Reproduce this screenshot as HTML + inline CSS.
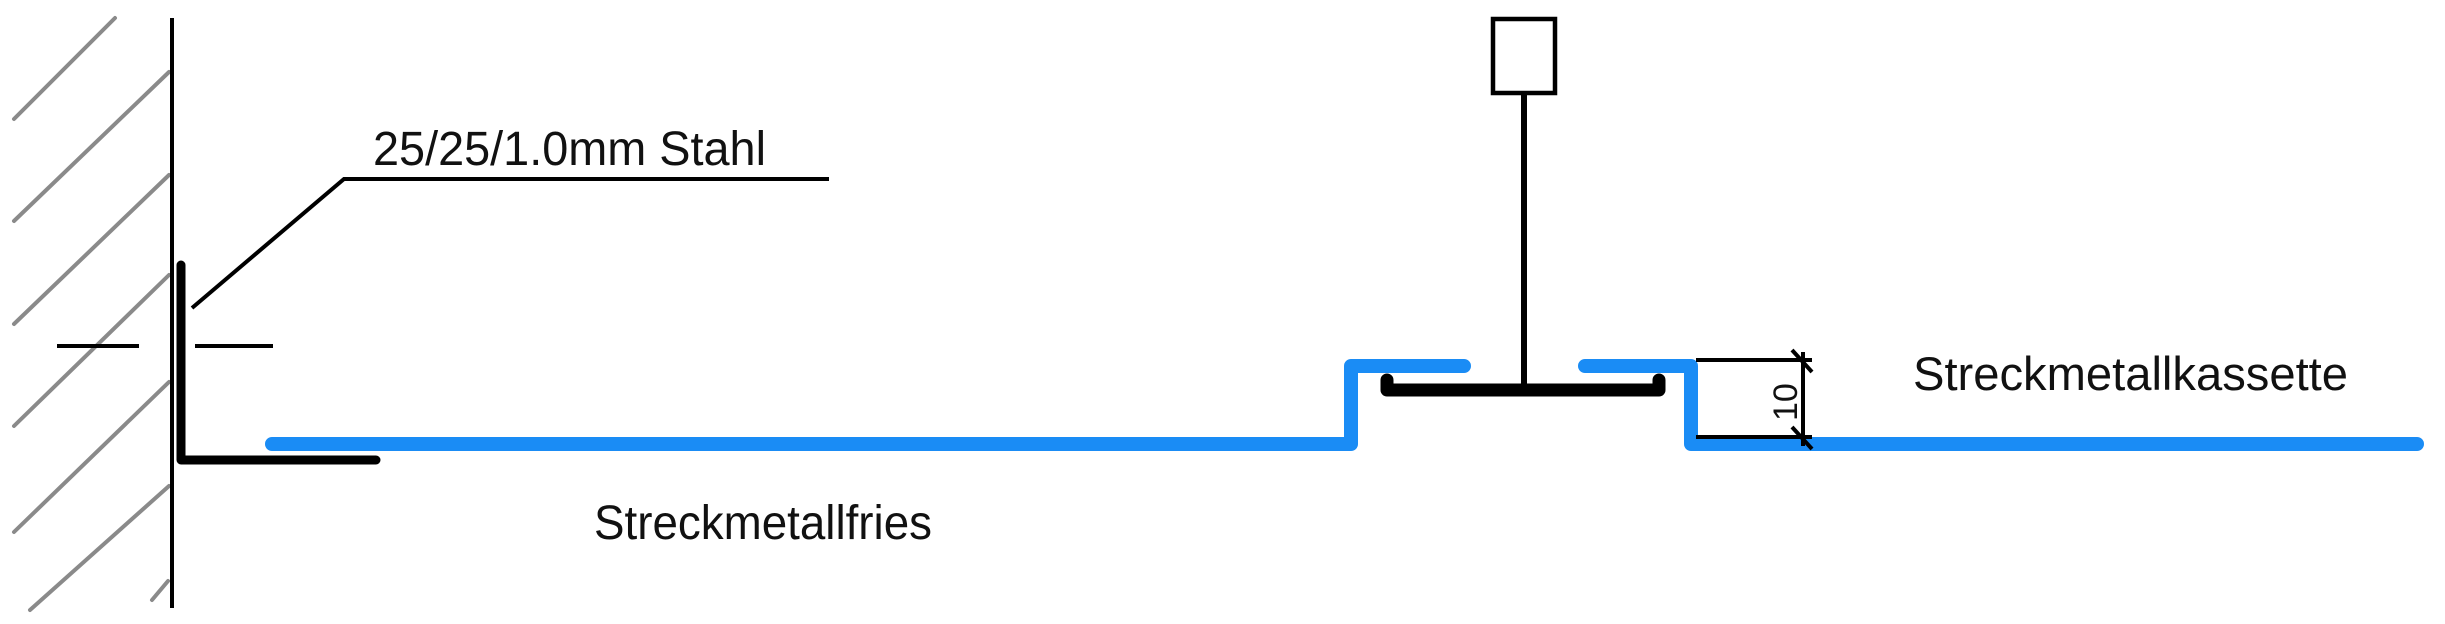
<!DOCTYPE html>
<html><head><meta charset="utf-8"><style>
html,body{margin:0;padding:0;background:#fff;}
svg{display:block;}
text{font-family:"Liberation Sans",Arial,sans-serif;fill:#111;}
</style></head><body>
<svg width="2445" height="624" viewBox="0 0 2445 624" xmlns="http://www.w3.org/2000/svg">
<g stroke="#8a8a8a" stroke-width="4" stroke-linecap="round">
<line x1="115" y1="18" x2="14" y2="119"/>
<line x1="169" y1="72" x2="14" y2="221"/>
<line x1="169" y1="175" x2="14" y2="324"/>
<line x1="169" y1="275" x2="14" y2="426"/>
<line x1="169" y1="382" x2="14" y2="532"/>
<line x1="169" y1="486" x2="30" y2="610"/>
<line x1="168" y1="581" x2="152" y2="600"/>
</g>
<line x1="172" y1="18" x2="172" y2="608" stroke="#000" stroke-width="4"/>
<g stroke="#000" stroke-width="4">
<line x1="57" y1="346" x2="139" y2="346"/>
<line x1="195" y1="346" x2="273" y2="346"/>
<polyline points="192,308 344,179 829,179" fill="none"/>
</g>
<polyline points="181,265 181,460 376,460" fill="none" stroke="#000" stroke-width="9" stroke-linecap="round" stroke-linejoin="round"/>
<text x="373" y="165" font-size="48" textLength="393" lengthAdjust="spacingAndGlyphs">25/25/1.0mm Stahl</text>
<g fill="none" stroke="#1a8cf5" stroke-width="14" stroke-linecap="round" stroke-linejoin="round">
<polyline points="272,444 1351,444 1351,366 1464,366"/>
<polyline points="1585,366 1691,366 1691,444 2417,444"/>
</g>
<text x="594" y="539" font-size="48" textLength="338" lengthAdjust="spacingAndGlyphs">Streckmetallfries</text>
<rect x="1493" y="19" width="62" height="74" fill="none" stroke="#000" stroke-width="4.5"/>
<line x1="1524" y1="93" x2="1524" y2="390" stroke="#000" stroke-width="6"/>
<path d="M1387,380 L1387,390 L1659,390 L1659,380" fill="none" stroke="#000" stroke-width="13" stroke-linecap="round" stroke-linejoin="round"/>
<g stroke="#000" stroke-width="4">
<line x1="1696" y1="360" x2="1812" y2="360"/>
<line x1="1696" y1="437" x2="1812" y2="437"/>
<line x1="1803" y1="352" x2="1803" y2="446"/>
<line x1="1792" y1="350" x2="1812" y2="372"/>
<line x1="1792" y1="427" x2="1812" y2="449"/>
</g>
<text transform="translate(1797,421) rotate(-90)" font-size="34">10</text>
<text x="1913" y="390" font-size="47" textLength="435" lengthAdjust="spacingAndGlyphs">Streckmetallkassette</text>
</svg>
</body></html>
